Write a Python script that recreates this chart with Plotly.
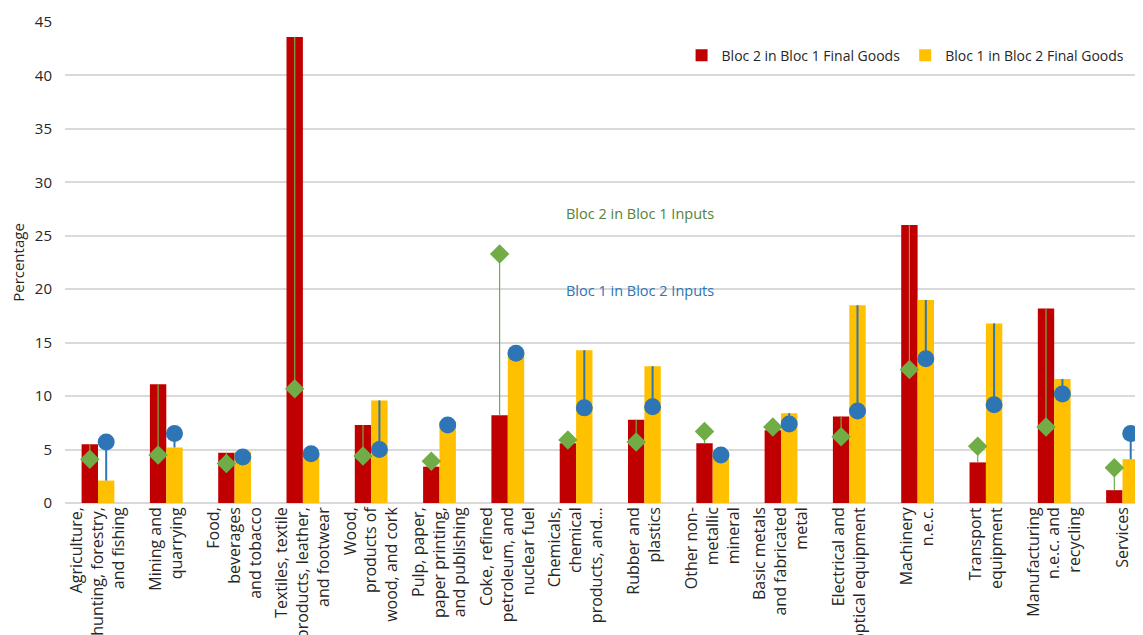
import numpy as np
import plotly.graph_objects as go

sectors = [
    "Agriculture,<br>hunting, forestry,<br>and fishing",
    "Mining and<br>quarrying",
    "Food,<br>beverages<br>and tobacco",
    "Textiles, textile<br>products, leather,<br>and footwear",
    "Wood,<br>products of<br>wood, and cork",
    "Pulp, paper,<br>paper printing,<br>and publishing",
    "Coke, refined<br>petroleum, and<br>nuclear fuel",
    "Chemicals,<br>chemical<br>products, and...",
    "Rubber and<br>plastics",
    "Other non-<br>metallic<br>mineral",
    "Basic metals<br>and fabricated<br>metal",
    "Electrical and<br>optical equipment",
    "Machinery<br>n.e.c.",
    "Transport<br>equipment",
    "Manufacturing<br>n.e.c. and<br>recycling",
    "Services",
]

# final goods shares (bars)
b2_in_b1_final = [5.5, 11.1, 4.7, 43.6, 7.3, 3.4, 8.2, 5.6, 7.8, 5.6, 6.8, 8.1, 26.0, 3.8, 18.2, 1.2]
b1_in_b2_final = [2.1, 5.2, 4.8, 4.5, 9.6, 7.6, 14.0, 14.3, 12.8, 4.8, 8.4, 18.5, 19.0, 16.8, 11.6, 4.1]

# input shares (markers)
b2_in_b1_inputs = [4.1, 4.5, 3.7, 10.7, 4.4, 3.9, 23.3, 5.9, 5.7, 6.7, 7.1, 6.2, 12.5, 5.3, 7.1, 3.3]
b1_in_b2_inputs = [5.7, 6.5, 4.3, 4.6, 5.0, 7.3, 14.0, 8.9, 9.0, 4.5, 7.4, 8.6, 13.5, 9.2, 10.2, 6.5]

RED = "#C00000"
YELLOW = "#FFC000"
GREEN = "#70AD47"
BLUE = "#2E75B6"
W = 0.24

x = np.arange(len(sectors))
fin1 = np.array(b2_in_b1_final)
fin2 = np.array(b1_in_b2_final)
inp1 = np.array(b2_in_b1_inputs)
inp2 = np.array(b1_in_b2_inputs)

fig = go.Figure()
fig.add_trace(go.Bar(x=x, y=fin1, name="Bloc 2 in Bloc 1 Final Goods",
                     marker=dict(color=RED, line=dict(width=0)), width=W, offset=-W))
fig.add_trace(go.Bar(x=x, y=fin2, name="Bloc 1 in Bloc 2 Final Goods",
                     marker=dict(color=YELLOW, line=dict(width=0)), width=W, offset=0))

# markers with a drop line to the top of their bar
fig.add_trace(go.Scatter(
    x=x - W / 2, y=inp1, mode="markers", showlegend=False,
    marker=dict(symbol="diamond", size=15, color=GREEN),
    error_y=dict(type="data", symmetric=False,
                 array=np.clip(fin1 - inp1, 0, None),
                 arrayminus=np.clip(inp1 - fin1, 0, None),
                 color=GREEN, thickness=1.2, width=0)))
fig.add_trace(go.Scatter(
    x=x + W / 2, y=inp2, mode="markers", showlegend=False,
    marker=dict(symbol="circle", size=17, color=BLUE),
    error_y=dict(type="data", symmetric=False,
                 array=np.clip(fin2 - inp2, 0, None),
                 arrayminus=np.clip(inp2 - fin2, 0, None),
                 color=BLUE, thickness=2, width=0)))

fig.add_annotation(x=7.93, y=27.1, text="Bloc 2 in Bloc 1 Inputs", showarrow=False,
                   font=dict(color="#548235", size=14.5))
fig.add_annotation(x=7.93, y=19.9, text="Bloc 1 in Bloc 2 Inputs", showarrow=False,
                   font=dict(color=BLUE, size=14.5))

fig.update_layout(
    width=1160, height=627,
    margin=dict(l=57, r=0, t=14, b=132),
    plot_bgcolor="white", paper_bgcolor="white",
    font=dict(family="Open Sans, sans-serif", size=14, color="#262626"),
    barmode="overlay",
    legend=dict(orientation="h", x=0.559, y=0.93, xanchor="left", yanchor="middle",
                font=dict(size=14, color="#262626"), itemwidth=30,
                traceorder="normal"),
)
fig.update_xaxes(range=[-0.483, 15.666], tickmode="array", tickvals=x, ticktext=sectors,
                 tickangle=-90, showgrid=False, zeroline=False, showline=False,
                 ticks="", automargin=False, tickfont=dict(size=16))
fig.update_yaxes(range=[0, 45], dtick=5, showgrid=True, gridcolor="#d9d9d9", gridwidth=1.5,
                 zeroline=True, zerolinecolor="#d9d9d9", zerolinewidth=1.5, showline=False,
                 title=dict(text="Percentage", font=dict(size=15), standoff=14),
                 ticks="", ticklabelstandoff=12, automargin=False, tickfont=dict(size=15))

fig.write_html("out.html")
